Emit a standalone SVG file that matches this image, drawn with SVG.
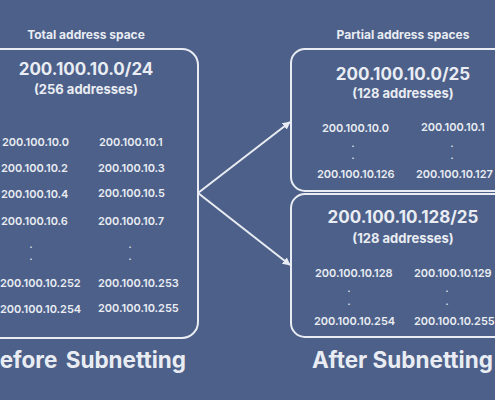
<svg xmlns="http://www.w3.org/2000/svg" width="495" height="400" viewBox="0 0 495 400">
<defs>
<style>
text{font-family:Inter,"Noto Sans","DejaVu Sans",sans-serif;fill:#e9edf3}
.cap{font-size:12px;font-weight:700;text-anchor:middle}
.h{font-size:17px;font-weight:700;text-anchor:middle}
.s{font-size:13px;font-weight:700;text-anchor:middle}
.a{font-size:11px;font-weight:600}
.d{font-size:9px;font-weight:700;text-anchor:middle}
.t{font-size:22.5px;font-weight:700}
.box{fill:none;stroke:#e9edf3;stroke-width:2}
.con{stroke:#e9edf3;stroke-width:2;fill:none}
</style>
<marker id="ah" viewBox="0 0 10 10" refX="9" refY="5" markerWidth="4" markerHeight="4" orient="auto" markerUnits="strokeWidth">
<path d="M0,0 L10,5 L0,10 z" fill="#e9edf3"/>
</marker>
</defs>
<rect width="495" height="400" fill="#4d6089"/>
<text class="cap" x="86" y="39">Total address space</text>
<text class="cap" x="403" y="39">Partial address spaces</text>
<g id="total">
<rect class="box" x="-26" y="49" width="224" height="289" rx="16"/>
<text class="h" x="86" y="75">200.100.10.0/24</text>
<text class="s" x="86" y="94">(256 addresses)</text>
<text class="a" x="2" y="146">200.100.10.0</text>
<text class="a" x="99" y="146">200.100.10.1</text>
<text class="a" x="1" y="172">200.100.10.2</text>
<text class="a" x="98" y="172">200.100.10.3</text>
<text class="a" x="1" y="198">200.100.10.4</text>
<text class="a" x="98" y="197">200.100.10.5</text>
<text class="a" x="1" y="225">200.100.10.6</text>
<text class="a" x="98" y="225">200.100.10.7</text>
<text class="d" x="31" y="248">.</text>
<text class="d" x="31" y="260">.</text>
<text class="d" x="130" y="248">.</text>
<text class="d" x="130" y="260">.</text>
<text class="a" x="0" y="287">200.100.10.252</text>
<text class="a" x="98" y="287">200.100.10.253</text>
<text class="a" x="0" y="313">200.100.10.254</text>
<text class="a" x="98" y="312">200.100.10.255</text>
</g>
<g id="sub1">
<rect class="box" x="291" y="49" width="234" height="142" rx="14"/>
<text class="h" x="403" y="80">200.100.10.0/25</text>
<text class="s" x="403" y="98">(128 addresses)</text>
<text class="a" x="322" y="132">200.100.10.0</text>
<text class="a" x="421" y="131">200.100.10.1</text>
<text class="d" x="353" y="147">.</text>
<text class="d" x="353" y="159">.</text>
<text class="d" x="452" y="147">.</text>
<text class="d" x="452" y="159">.</text>
<text class="a" x="317" y="178">200.100.10.126</text>
<text class="a" x="416" y="178">200.100.10.127</text>
</g>
<g id="sub2">
<rect class="box" x="291" y="194" width="234" height="143" rx="14"/>
<text class="h" x="403" y="223">200.100.10.128/25</text>
<text class="s" x="403" y="243">(128 addresses)</text>
<text class="a" x="315" y="277">200.100.10.128</text>
<text class="a" x="414" y="277">200.100.10.129</text>
<text class="d" x="349" y="292">.</text>
<text class="d" x="349" y="305">.</text>
<text class="d" x="447" y="292">.</text>
<text class="d" x="447" y="305">.</text>
<text class="a" x="314" y="325">200.100.10.254</text>
<text class="a" x="414" y="325">200.100.10.255</text>
</g>
<g id="connectors">
<path class="con" d="M198,193 L290,122" marker-end="url(#ah)"/>
<path class="con" d="M198,193 L290,265" marker-end="url(#ah)"/>
</g>
<text class="t" x="186" y="368" text-anchor="end" word-spacing="3">Before Subnetting</text>
<text class="t" x="312" y="368">After Subnetting</text>
</svg>
